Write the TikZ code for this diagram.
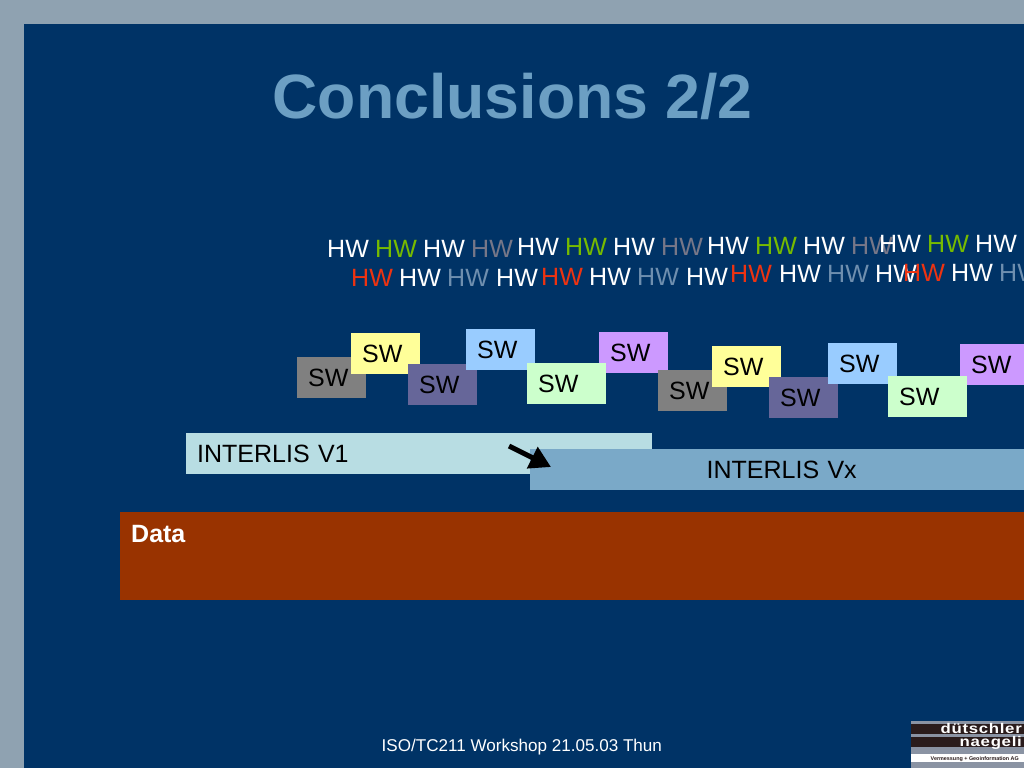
\documentclass[tikz,border=0pt]{standalone}
\usepackage{fontspec}
\setmainfont{Liberation Sans}
\usetikzlibrary{arrows.meta}
\definecolor{frameblue}{HTML}{8FA2B1}
\definecolor{slideblue}{HTML}{003366}
\definecolor{titleblue}{HTML}{6C9FC3}
\definecolor{hwgreen}{HTML}{77BB00}
\definecolor{hwgrey}{HTML}{777788}
\definecolor{hwred}{HTML}{EE3311}
\definecolor{hwlight}{HTML}{6F8FAF}
\definecolor{swgrey}{HTML}{808080}
\definecolor{swyellow}{HTML}{FFFF99}
\definecolor{swindigo}{HTML}{666699}
\definecolor{swblue}{HTML}{99CCFF}
\definecolor{swgreen}{HTML}{CCFFCC}
\definecolor{swpurple}{HTML}{CC99FF}
\definecolor{ilione}{HTML}{B8DDE3}
\definecolor{ilix}{HTML}{7AA9C8}
\definecolor{databrown}{HTML}{993300}
\definecolor{logogrey}{HTML}{8A93A3}
\definecolor{logodark}{HTML}{2A1C1C}
\newcommand{\slidesize}{\fontsize{25}{30}\selectfont}
\tikzset{
  hwtext/.style={anchor=base west,inner sep=0pt,font=\slidesize,text=#1},
  swbox/.style={anchor=north west,fill=#1,text=black,inner xsep=11pt,inner ysep=0pt,
    text width=47pt,minimum height=41pt,align=left,font=\slidesize},
  widebox/.style={swbox=#1,text width=57pt},
  layerbox/.style={anchor=north west,fill=#1,text=black,inner xsep=11pt,inner ysep=0pt,
    minimum height=41pt,font=\slidesize},
  logotext/.style={anchor=base east,inner sep=0pt,text=#1}
}
\begin{document}
\begin{tikzpicture}[x=1pt,y=-1pt]
  \useasboundingbox (0,0) rectangle (1024,768);
  \fill[frameblue] (0,0) rectangle (1024,768);
  \fill[slideblue] (24,24) rectangle (1024,768);
  \node[anchor=base west,inner sep=0pt,text=titleblue,font=\fontsize{62.6}{70}\selectfont\bfseries]
    (title) at (272.5,118) {Conclusions 2/2};
  % first line of hardware
  \draw
    (327,257) node[hwtext=white] (hw0){HW}
    (375,257) node[hwtext=hwgreen] (hw1){HW}
    (423,257) node[hwtext=white] (hw2){HW}
    (471,257) node[hwtext=hwgrey] (hw3){HW}
    (517,255.5) node[hwtext=white] (hw4){HW}
    (565,255.5) node[hwtext=hwgreen] (hw5){HW}
    (613,255.5) node[hwtext=white] (hw6){HW}
    (661,255.5) node[hwtext=hwgrey] (hw7){HW}
    (707,254) node[hwtext=white] (hw8){HW}
    (755,254) node[hwtext=hwgreen] (hw9){HW}
    (803,254) node[hwtext=white] (hw10){HW}
    (851,254) node[hwtext=hwgrey] (hw11){HW}
    (879,252) node[hwtext=white] (hw12){HW}
    (927,252) node[hwtext=hwgreen] (hw13){HW}
    (975,252) node[hwtext=white] (hw14){HW};
  % second line of hardware
  \draw
    (351,286) node[hwtext=hwred] (hw15){HW}
    (399,286) node[hwtext=white] (hw16){HW}
    (447,286) node[hwtext=hwlight] (hw17){HW}
    (496,286) node[hwtext=white] (hw18){HW}
    (541,285) node[hwtext=hwred] (hw19){HW}
    (589,285) node[hwtext=white] (hw20){HW}
    (637,285) node[hwtext=hwlight] (hw21){HW}
    (686,285) node[hwtext=white] (hw22){HW}
    (730,282) node[hwtext=hwred] (hw23){HW}
    (779,282) node[hwtext=white] (hw24){HW}
    (827,282) node[hwtext=hwlight] (hw25){HW}
    (875,282) node[hwtext=white] (hw26){HW}
    (903,281) node[hwtext=hwred] (hw27){HW}
    (951,281) node[hwtext=white] (hw28){HW}
    (999,281) node[hwtext=hwlight] (hw29){HW};
  % software boxes
  \draw
    (297,357) node[swbox=swgrey] (sw0){SW}
    (351,333) node[swbox=swyellow] (sw1){SW}
    (408,364) node[swbox=swindigo] (sw2){SW}
    (466,329) node[swbox=swblue] (sw3){SW}
    (599,332) node[swbox=swpurple] (sw5){SW}
    (527,363) node[widebox=swgreen] (sw4){SW}
    (658,370) node[swbox=swgrey] (sw6){SW}
    (712,346) node[swbox=swyellow] (sw7){SW}
    (769,377) node[swbox=swindigo] (sw8){SW}
    (828,343) node[swbox=swblue] (sw9){SW}
    (960,344) node[swbox=swpurple] (sw11){SW}
    (888,376) node[widebox=swgreen] (sw10){SW};
  % interlis and data layers
  \node[layerbox=ilione,text width=444pt,align=left] (v1) at (186,433) {INTERLIS V1};
  \node[layerbox=ilix,text width=481pt,align=center] (vx) at (530,449) {INTERLIS Vx};
  \node[anchor=north west,fill=databrown,text=white,inner xsep=11pt,inner ysep=0pt,text width=882pt,
    text height=30pt,text depth=58pt,font=\slidesize\bfseries] (data) at (120,512) {Data};
  \coordinate (arrowstart) at (509,446);
  \coordinate (arrowend) at (551,467);
  \draw[line width=5pt,-{Triangle[length=21pt,width=23pt]}] (arrowstart) to (arrowend);
  \node[anchor=base west,inner sep=0pt,text=white,font=\fontsize{17.07}{20}\selectfont]
    (footer) at (381.5,751) {ISO/TC211 Workshop 21.05.03 Thun};
  % logo
  \fill[logogrey] (911,721) rectangle (1024,768);
  \fill[logodark] (911,724) rectangle (1024,734);
  \fill[logodark] (911,737) rectangle (1024,747);
  \fill[white] (911,754) rectangle (1024,762);
  \node[logotext=white,font=\fontsize{14}{14}\selectfont\bfseries\addfontfeature{FakeStretch=1.2,LetterSpace=5}]
    (logo0) at (1022,733.5) {dütschler};
  \node[logotext=white,font=\fontsize{14}{14}\selectfont\bfseries\addfontfeature{FakeStretch=1.2,LetterSpace=5}]
    (logo1) at (1022,746) {naegeli};
  \node[logotext=logodark,font=\fontsize{5.4}{6}\selectfont\bfseries]
    (logo2) at (1019,760) {Vermessung + Geoinformation AG};
\end{tikzpicture}
\end{document}
